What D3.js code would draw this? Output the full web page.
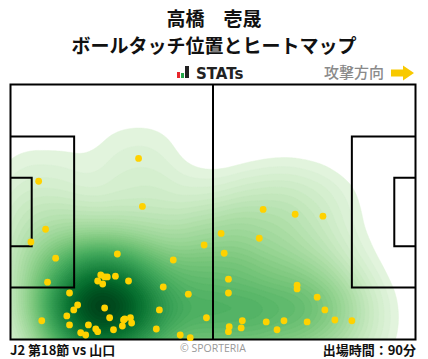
<!DOCTYPE html>
<html><head><meta charset="utf-8">
<script src="https://cdn.jsdelivr.net/npm/d3@7"></script>
<style>
html,body{margin:0;padding:0;background:#fff;}
svg{display:block;}
</style></head>
<body>
<svg id="chart" width="428" height="359"></svg>
<script>
// ---- data (pitch metres: x 0-105 toward attack, y 0-68 from top) ----
const titleLines = ["高橋　壱晟", "ボールタッチ位置とヒートマップ"];
const matchLabel = "J2 第18節 vs 山口";
const minutesLabel = "出場時間：90分";
const creditLabel = "© SPORTERIA";
const directionLabel = "攻撃方向";
const brandLabel = "STATs";
const pitchLength = 105, pitchWidth = 68;

const touchX = [33.2,7.3,34.2,9.1,5.3,11.7,27.7,50.2,42.2,9.6,23.4,24.4,25.1,27.2,22.6,23.9,30.6,39.6,46.1,15.3,17.4,16.4,24.4,14.6,25.7,29.6,29.3,31.1,31.4,29.0,38.6,50.8,8.1,15.3,20.2,22.1,22.6,26.7,37.8,18.2,19.5,44.0,46.6,
  65.5,73.8,81.0,54.6,64.5,55.4,56.5,56.5,74.3,74.3,79.5,81.5,84.1,88.5,60.1,66.3,70.9,76.9,69.1,56.7,59.8,56.5];
const touchY = [19.7,25.8,32.5,38.6,42.0,46.3,45.2,42.8,46.8,52.7,50.8,51.3,51.3,51.1,52.4,53.2,52.4,54.0,55.9,55.6,58.8,60.1,59.6,61.7,62.2,62.5,62.8,62.2,63.6,64.4,60.1,62.2,63.0,64.1,64.1,65.2,65.9,65.4,65.2,66.2,66.8,66.8,67.5,
  33.3,34.6,35.1,39.7,41.0,45.0,51.9,55.6,53.5,54.5,56.7,60.1,62.8,63.0,63.0,63.3,63.0,63.3,65.4,64.6,64.9,65.9];

const svg = d3.select("#chart");
const W = 428, H = 359;
const px0 = 10.5, px1 = 415.5, py0 = 84.5, py1 = 339.5;
const x = d3.scaleLinear().domain([0, pitchLength]).range([px0, px1]);
const y = d3.scaleLinear().domain([0, pitchWidth]).range([py0, py1]);
const points = touchX.map((v, i) => ({x: v, y: touchY[i]}));

// ---- title ----
const fontJP = "'Noto Sans CJK JP','Noto Sans',sans-serif";
svg.append("text").attr("x", 214).attr("y", 25.5).attr("text-anchor", "middle")
  .attr("font-family", fontJP).attr("font-weight", 700).attr("font-size", 19).attr("fill", "#111")
  .text(titleLines[0]);
svg.append("text").attr("x", 214).attr("y", 53).attr("text-anchor", "middle")
  .attr("font-family", fontJP).attr("font-weight", 700).attr("font-size", 19).attr("fill", "#111")
  .text(titleLines[1]);

// brand logo
svg.append("rect").attr("x", 177).attr("y", 72).attr("width", 3).attr("height", 6).attr("fill", "#e8262c");
svg.append("rect").attr("x", 181).attr("y", 73).attr("width", 3).attr("height", 5).attr("fill", "#23a84a");
svg.append("rect").attr("x", 185).attr("y", 66).attr("width", 4).attr("height", 12).attr("fill", "#222");
svg.append("text").attr("x", 196).attr("y", 78.5)
  .attr("font-family", "'DejaVu Sans',sans-serif").attr("font-weight", 700).attr("font-size", 15)
  .attr("fill", "#222").text(brandLabel);

// attack direction
svg.append("text").attr("x", 384).attr("y", 78).attr("text-anchor", "end")
  .attr("font-family", fontJP).attr("font-weight", 500).attr("font-size", 15).attr("fill", "#8a8a8a").text(directionLabel);
svg.append("path").attr("d", "M391,69.5 H403 V65.5 L414,73 L403,80.5 V76.5 H391 Z").attr("fill", "#f8c900");

// ---- pitch ----
const defs = svg.append("defs");
defs.append("clipPath").attr("id", "pitchClip").append("rect")
  .attr("x", px0).attr("y", py0).attr("width", px1 - px0).attr("height", py1 - py0);

svg.append("rect").attr("x", px0).attr("y", py0).attr("width", px1 - px0).attr("height", py1 - py0).attr("fill", "#fff");

const density = d3.contourDensity()
  .x(d => x(d.x)).y(d => y(d.y))
  .size([W, H]).cellSize(2).bandwidth(33)
  .thresholds(70)(points);
const maxV = d3.max(density, d => d.value);
const minV = maxV * 0.025;
const levels = density.filter(d => d.value >= minV);
const color = d3.scaleSequential(d3.interpolateGreens).domain([0, 1]);
const shade = v => color(0.05 + 0.95 * Math.pow(v / maxV, 0.75));
svg.append("g").attr("clip-path", "url(#pitchClip)")
  .selectAll("path").data(levels).join("path")
  .attr("d", d3.geoPath())
  .attr("fill", d => shade(d.value))
  .attr("stroke", d => shade(d.value)).attr("stroke-width", 0.5);

const lines = svg.append("g").attr("fill", "none").attr("stroke", "#000").attr("stroke-width", 2);
lines.append("rect").attr("x", px0).attr("y", py0).attr("width", px1 - px0).attr("height", py1 - py0);
lines.append("line").attr("x1", x(pitchLength / 2)).attr("x2", x(pitchLength / 2)).attr("y1", py0).attr("y2", py1);
const boxes = [[16.5, 40.32], [5.5, 18.32]];
boxes.forEach(([depth, width]) => {
  const ya = y(pitchWidth / 2 - width / 2), yb = y(pitchWidth / 2 + width / 2);
  lines.append("path").attr("d", `M${x(0)},${ya} H${x(depth)} V${yb} H${x(0)}`);
  lines.append("path").attr("d", `M${x(pitchLength)},${ya} H${x(pitchLength - depth)} V${yb} H${x(pitchLength)}`);
});

svg.append("g").selectAll("circle").data(points).join("circle")
  .attr("cx", d => x(d.x)).attr("cy", d => y(d.y)).attr("r", 3.4).attr("fill", "#ffd200");

// ---- footer ----
svg.append("text").attr("x", 10).attr("y", 355)
  .attr("font-family", fontJP).attr("font-weight", 700).attr("font-size", 13).attr("fill", "#111").text(matchLabel);
svg.append("text").attr("x", 416).attr("y", 355).attr("text-anchor", "end")
  .attr("font-family", fontJP).attr("font-weight", 700).attr("font-size", 13).attr("fill", "#111").text(minutesLabel);
svg.append("text").attr("x", 213).attr("y", 352).attr("text-anchor", "middle")
  .attr("font-family", "'Open Sans',sans-serif").attr("font-size", 10.5).attr("fill", "#999").text(creditLabel);
</script>
</body></html>
